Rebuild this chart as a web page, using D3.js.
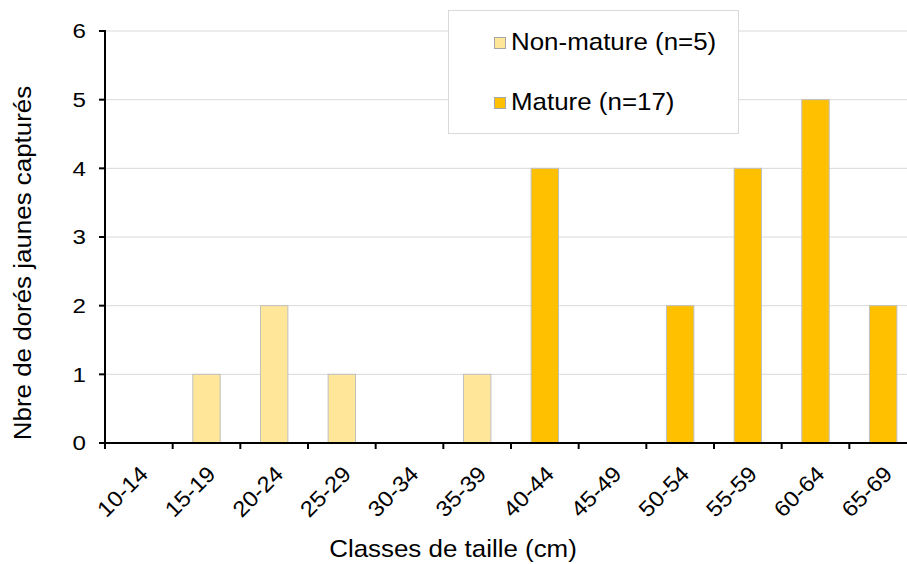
<!DOCTYPE html>
<html><head><meta charset="utf-8">
<script src="https://cdn.jsdelivr.net/npm/d3@7"></script>
<style>body{margin:0;background:#fff}svg{display:block;font-family:"Liberation Sans",Arial,sans-serif}</style>
</head><body><svg id="c" width="907" height="564"></svg>
<script>
const categories = ["10-14","15-19","20-24","25-29","30-34","35-39","40-44","45-49","50-54","55-59","60-64","65-69"];
const nonMature = [0,1,2,1,0,1,0,0,0,0,0,0];
const mature = [0,0,0,0,0,0,4,0,2,4,5,2];
const yTicks = [0,1,2,3,4,5,6];
const seriesNames = ["Non-mature (n=5)","Mature (n=17)"];
const seriesColors = ["#FFE699","#FFC000"];

const svg = d3.select("#c");
const x = d3.scaleBand().domain(categories).range([105,917]).paddingInner(0).paddingOuter(0);
const y = d3.scaleLinear().domain([0,6]).range([443,31]);

// gridlines
svg.append("g").selectAll("line").data(yTicks.filter(d=>d>0)).join("line")
  .attr("x1",105).attr("x2",907).attr("y1",d=>y(d)).attr("y2",d=>y(d))
  .attr("stroke","#D9D9D9").attr("stroke-width",1);

// bars
const bw = x.bandwidth()*0.405;
[nonMature, mature].forEach((arr,si)=>{
  svg.append("g").selectAll("rect").data(categories.map((c,i)=>({c,v:arr[i]})).filter(d=>d.v>0)).join("rect")
    .attr("x",d=>x(d.c)+x.bandwidth()/2-bw/2).attr("width",bw)
    .attr("y",d=>y(d.v)).attr("height",d=>y(0)-y(d.v))
    .attr("fill",seriesColors[si]).attr("stroke","#BFBFBF").attr("stroke-width",1);
});

// y axis
svg.append("line").attr("x1",105).attr("x2",105).attr("y1",30).attr("y2",444).attr("stroke","#000").attr("stroke-width",2);
svg.append("g").selectAll("line").data(yTicks).join("line")
  .attr("x1",99).attr("x2",105).attr("y1",d=>y(d)).attr("y2",d=>y(d)).attr("stroke","#000").attr("stroke-width",2);
svg.append("g").selectAll("text").data(yTicks).join("text")
  .attr("transform",d=>`translate(86,${y(d)}) scale(1.15,1)`).attr("dy","0.35em").attr("text-anchor","end")
  .attr("font-size",21).attr("fill","#000").text(d=>d3.format("d")(d));

// x axis
const xTickPos = categories.map(c=>x(c)).concat([x(categories[categories.length-1])+x.bandwidth()]);
svg.append("line").attr("x1",105).attr("x2",907).attr("y1",443).attr("y2",443).attr("stroke","#000").attr("stroke-width",2);
svg.append("g").selectAll("line").data(xTickPos.filter(p=>p<907)).join("line")
  .attr("x1",d=>d).attr("x2",d=>d).attr("y1",443).attr("y2",449).attr("stroke","#000").attr("stroke-width",2);
svg.append("g").selectAll("text").data(categories).join("text")
  .attr("transform",d=>`translate(${x(d)+x.bandwidth()/2+5},${470}) rotate(-45) scale(1.08,1)`)
  .attr("text-anchor","end").attr("dy","0.35em").attr("font-size",22).attr("fill","#000").text(d=>d);

// axis titles
svg.append("text").attr("transform","translate(453,557) scale(1.08,1)").attr("text-anchor","middle").attr("font-size",24).attr("fill","#000").text("Classes de taille (cm)");
svg.append("text").attr("transform","translate(31,263) rotate(-90) scale(1.08,1)").attr("text-anchor","middle").attr("font-size",24).attr("fill","#000").text("Nbre de dorés jaunes capturés");

// legend
const lg = svg.append("g");
lg.append("rect").attr("x",448.5).attr("y",10.5).attr("width",290).attr("height",123).attr("fill","#fff").attr("stroke","#D9D9D9").attr("stroke-width",1);
const legY = [50,110];
seriesNames.forEach((n,i)=>{
  lg.append("rect").attr("x",494.5).attr("y",legY[i]-12.5).attr("width",11).attr("height",11).attr("fill",seriesColors[i]).attr("stroke","#A6A6A6");
  lg.append("text").attr("transform",`translate(511,${legY[i]}) scale(1.08,1)`).attr("font-size",24).attr("fill","#000").text(n);
});
</script></body></html>
